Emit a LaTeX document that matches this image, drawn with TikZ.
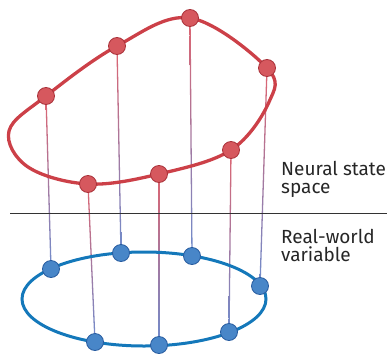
\documentclass[tikz,border=0pt]{standalone}
\usepackage{fontspec}
\setmainfont{Fira Sans}
\usetikzlibrary{calc}
\definecolor{redline}{RGB}{204,64,72}
\definecolor{redball}{RGB}{214,88,94}
\definecolor{redballdark}{RGB}{170,50,58}
\definecolor{blueline}{RGB}{20,120,186}
\definecolor{blueball}{RGB}{72,134,200}
\definecolor{blueballdark}{RGB}{40,92,160}
\definecolor{linktop}{RGB}{222,100,112}
\definecolor{linkbot}{RGB}{110,140,205}
\tikzset{
  redpt/.style={circle,minimum size=17pt,inner sep=0pt,fill=redball,draw=redballdark,line width=0.8pt},
  bluept/.style={circle,minimum size=17pt,inner sep=0pt,fill=blueball,draw=blueballdark,line width=0.8pt},
  lbl/.style={font=\fontsize{19}{18.5}\selectfont,align=left,inner sep=0pt,anchor=north west,text=black!85}
}
\begin{document}
\begin{tikzpicture}[x=1pt,y=-1pt]
\useasboundingbox (0,0) rectangle (387,353);
% positions
\coordinate (r1) at (46,96);
\coordinate (r2) at (117,46);
\coordinate (r3) at (190,18);
\coordinate (r4) at (267,68);
\coordinate (r5) at (231,150);
\coordinate (r6) at (159,174);
\coordinate (r7) at (88,184);
\coordinate (b1) at (51,269);
\coordinate (b2) at (121,253);
\coordinate (b3) at (192,256);
\coordinate (b4) at (260,286);
\coordinate (b5) at (229,332);
\coordinate (b6) at (159,345);
\coordinate (b7) at (95,342);
\coordinate (ra) at (269,102);
\coordinate (rb) at (28,167);
\coordinate (rc) at (9,131);
\coordinate (ec) at (144,299);
% links
\foreach \i in {1,...,7}{
  \shade[top color=linktop,bottom color=linkbot]
    ($(r\i)+(-0.65,0)$) -- ($(b\i)+(-0.65,0)$) -- ($(b\i)+(0.65,0)$) -- ($(r\i)+(0.65,0)$) -- cycle;
}
% curves
\draw[redline,line width=3.3pt] plot[smooth cycle,tension=0.6] coordinates {(r1) (r2) (r3) (r4) (ra) (r5) (r6) (r7) (rb) (rc)};
\draw[blueline,line width=3pt] (ec) ellipse [x radius=122,y radius=47];
% divider
\coordinate (hl) at (10,213);
\coordinate (hr) at (387,213);
\draw[black!80,line width=0.8pt] (hl) -- (hr);
% points
\foreach \i in {1,...,7}{
  \node[redpt] (R\i) at (r\i) {};
  \node[bluept] (B\i) at (b\i) {};
}
% labels
\node[lbl] (ns) at (281,161) {Neural state\\space};
\node[lbl] (rw) at (281,229) {Real-world\\variable};
\end{tikzpicture}
\end{document}
